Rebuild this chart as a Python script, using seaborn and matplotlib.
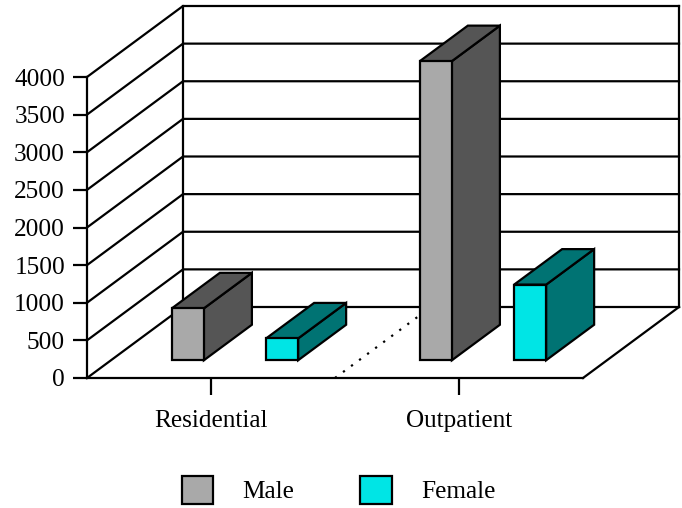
import matplotlib
matplotlib.use("Agg")
import matplotlib.pyplot as plt
import matplotlib.transforms as mtransforms
from matplotlib.colors import to_rgba
from matplotlib.patches import Polygon
import pandas as pd
import seaborn as sns

# ---- data -------------------------------------------------------------
settings = ["Residential", "Outpatient"]
sexes = ["Male", "Female"]
male_clients = [690, 3975]
female_clients = [290, 1005]
y_ticks = [0, 500, 1000, 1500, 2000, 2500, 3000, 3500, 4000]

front_colors = {"Male": "#A9A9A9", "Female": "#00E5E5"}
shade_colors = {"Male": "#555555", "Female": "#007373"}

df = pd.DataFrame({
    "Setting": settings * 2,
    "Sex": ["Male"] * len(settings) + ["Female"] * len(settings),
    "Clients": male_clients + female_clients,
})

# ---- style ------------------------------------------------------------
sns.set_theme(style="white")
plt.rcParams["font.family"] = ["Liberation Serif", "DejaVu Serif"]
plt.rcParams["text.color"] = "black"
FS = 18.2
LW = 1.6

W, H = 682, 508
fig = plt.figure(figsize=(W / 100, H / 100), dpi=100)

# front plane of the box, in pixels from the top-left corner
left_px, right_px, top_px, bottom_px = 87, 583, 77, 378
ax = fig.add_axes([left_px / W, 1 - bottom_px / H,
                   (right_px - left_px) / W, (bottom_px - top_px) / H])

sns.barplot(data=df, x="Setting", y="Clients", hue="Sex",
            order=settings, hue_order=sexes, palette=front_colors,
            saturation=1, width=0.76, gap=0.66, errorbar=None,
            edgecolor="black", linewidth=LW, zorder=3, ax=ax)

XMIN, XMAX = -0.5, len(settings) - 0.5
YMAX = y_ticks[-1]
ax.set_xlim(XMIN, XMAX)
ax.set_ylim(0, YMAX)

# oblique depth vector (pixels), converted to data units
depth_px = (96, 71)
DX = depth_px[0] * (XMAX - XMIN) / (right_px - left_px)
DY = depth_px[1] * YMAX / (bottom_px - top_px)


def proj(x, y, d):
    return (x + DX * d, y + DY * d)


line_kw = dict(color="black", lw=LW, clip_on=False, zorder=1,
               solid_capstyle="projecting")

# left wall + back wall gridlines
for v in y_ticks:
    xs, ys = zip(proj(XMIN, v, 0), proj(XMIN, v, 1), proj(XMAX, v, 1))
    ax.plot(xs, ys, **line_kw)
# back wall vertical edges
for x in (XMIN, XMAX):
    xs, ys = zip(proj(x, 0, 1), proj(x, YMAX, 1))
    ax.plot(xs, ys, **line_kw)
# floor right edge
xs, ys = zip(proj(XMAX, 0, 0), proj(XMAX, 0, 1))
ax.plot(xs, ys, **line_kw)
# dotted divider between categories on the floor
xs, ys = zip(proj(0.5, 0, 0), proj(0.5, 0, 1))
ax.plot(xs, ys, color="black", lw=LW, dashes=(1, 3.5), clip_on=False, zorder=1)

# ---- 3-D bars: shifted front faces plus side and top faces -------------
bar_front, bar_back = 0.25, 0.75
shift = mtransforms.Affine2D().translate(DX * bar_front, DY * bar_front)
shade_by_face = {to_rgba(front_colors[s]): shade_colors[s] for s in sexes}

for patch in list(ax.patches):
    if patch.get_width() == 0:
        continue
    x0, w, h = patch.get_x(), patch.get_width(), patch.get_height()
    shade = shade_by_face.get(tuple(patch.get_facecolor()), "#555555")
    x1 = x0 + w
    side = [proj(x1, 0, bar_front), proj(x1, 0, bar_back),
            proj(x1, h, bar_back), proj(x1, h, bar_front)]
    top = [proj(x0, h, bar_front), proj(x1, h, bar_front),
           proj(x1, h, bar_back), proj(x0, h, bar_back)]
    for verts in (side, top):
        ax.add_patch(Polygon(verts, closed=True, facecolor=shade,
                             edgecolor="black", linewidth=LW,
                             joinstyle="miter", clip_on=False, zorder=2.9))
    patch.set_transform(shift + ax.transData)
    patch.set_clip_on(False)
    patch.set_joinstyle("miter")

# ---- axes --------------------------------------------------------------
sns.despine(ax=ax)
for side_name in ("left", "bottom"):
    ax.spines[side_name].set_color("black")
    ax.spines[side_name].set_linewidth(LW)
    ax.spines[side_name].set_zorder(1.5)

ax.set_yticks(y_ticks)
ax.set_yticklabels([str(v) for v in y_ticks])
ax.set_xlabel("")
ax.set_ylabel("")
ax.tick_params(axis="y", left=True, direction="out", length=14 * 0.72,
               width=LW, color="black", pad=8 * 0.72, labelsize=FS,
               labelcolor="black")
ax.tick_params(axis="x", bottom=True, direction="out", length=17 * 0.72,
               width=LW, color="black", pad=15 * 0.72, labelsize=FS,
               labelcolor="black")

# ---- legend ------------------------------------------------------------
old = ax.get_legend()
handles = old.legend_handles
labels = [t.get_text() for t in old.get_texts()]
old.remove()
ax.legend(handles, labels, loc="center",
          bbox_to_anchor=(338.5 / W, 1 - 490 / H),
          bbox_transform=fig.transFigure, ncol=2, frameon=False,
          fontsize=FS, handlelength=1.25, handleheight=1.35,
          handletextpad=1.15, columnspacing=2.6, borderpad=0,
          borderaxespad=0, labelcolor="black")

fig.savefig("out.png", dpi=100)
